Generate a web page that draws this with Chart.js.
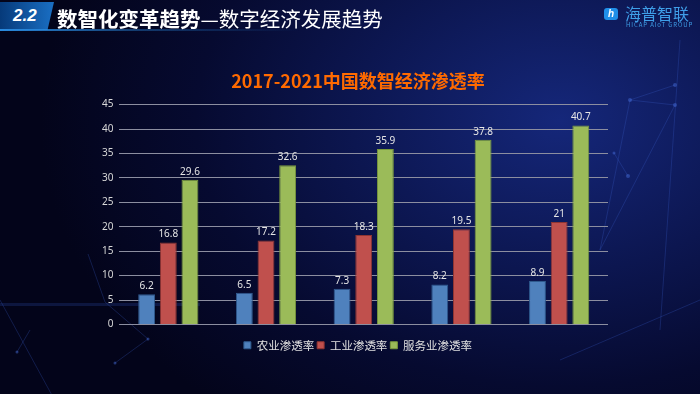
<!DOCTYPE html>
<html><head><meta charset="utf-8">
<script src="https://cdn.jsdelivr.net/npm/chart.js@4/dist/chart.umd.min.js"></script>
<style>
html,body{margin:0;padding:0;width:700px;height:394px;overflow:hidden;}
body{background:radial-gradient(ellipse 520px 380px at 560px 120px,#15277a 0%,#0c1650 40%,#060a30 70%,#03041a 100%);font-family:"Noto Sans CJK SC","Noto Sans",sans-serif;position:relative;}
#deco{position:absolute;left:0;top:0;}
#hdr{position:absolute;left:0;top:0;width:700px;height:40px;}
#tag{position:absolute;left:0;top:2px;width:54px;height:28px;background:linear-gradient(90deg,#063a7a,#1a6fc4);clip-path:polygon(0 0,100% 0,88% 100%,0 100%);}
#tag span{position:absolute;left:13px;top:4px;font:italic bold 17px "Liberation Sans",Arial,sans-serif;color:#fff;}
#line{position:absolute;left:0;top:29px;width:300px;height:2px;background:linear-gradient(90deg,#2a8be0,rgba(42,139,224,0.4) 45%,rgba(42,139,224,0));}
#ttl{position:absolute;left:57px;top:3px;font-size:20.5px;color:#fff;white-space:nowrap;}
#ttl b{font-weight:bold;}
#logo{position:absolute;left:604px;top:6px;}
#ico{position:absolute;left:0;top:2px;width:14px;height:12px;background:#1f8ee8;border-radius:3px;color:#fff;font:italic bold 10px Arial;text-align:center;line-height:12px;}
#lt{position:absolute;left:21px;top:-5px;font-size:16px;color:#3f9ee8;white-space:nowrap;letter-spacing:0px;}
#ls{position:absolute;left:22px;top:14px;font-size:6px;color:#3f9ee8;white-space:nowrap;letter-spacing:0.9px;}
#wrap{position:absolute;left:0;top:0;width:700px;height:394px;}
</style></head>
<body>
<svg id="deco" width="700" height="394">
<g stroke="#3a5cc8" stroke-opacity="0.28" stroke-width="1" fill="none">
<line x1="630" y1="100" x2="600" y2="250"/><line x1="630" y1="100" x2="675" y2="105"/><line x1="630" y1="100" x2="675" y2="85"/>
<line x1="600" y1="250" x2="675" y2="105"/><line x1="614" y1="153" x2="628" y2="176"/><line x1="680" y1="40" x2="660" y2="330"/>
<line x1="88" y1="254" x2="105" y2="302"/><line x1="105" y1="302" x2="148" y2="339"/><line x1="148" y1="339" x2="115" y2="363"/>
<line x1="17" y1="352" x2="30" y2="330"/><line x1="0" y1="300" x2="60" y2="410"/><line x1="560" y1="360" x2="700" y2="300"/>
</g>
<g fill="#4a70e0" fill-opacity="0.45">
<circle cx="630" cy="100" r="2"/><circle cx="675" cy="105" r="2"/><circle cx="675" cy="85" r="2"/><circle cx="628" cy="176" r="2"/><circle cx="614" cy="153" r="1.5"/>
<circle cx="148" cy="339" r="1.5"/><circle cx="115" cy="363" r="1.5"/><circle cx="17" cy="352" r="1.5"/>
</g>
<rect x="0" y="303" width="200" height="3" fill="#2a4ab0" fill-opacity="0.25"/>
</svg>
<div id="wrap"><canvas id="c" width="700" height="394"></canvas></div>
<div id="hdr">
<div id="tag"><span>2.2</span></div>
<div id="line"></div>
<div id="ttl"><b>数智化变革趋势</b>—数字经济发展趋势</div>
<div id="logo"><div id="ico">h</div><div id="lt">海普智联</div><div id="ls">HICAP AIoT GROUP</div></div>
</div>
<script>
const categories = ["2017","2018","2019","2020","2021"];
const agriculture = [6.2,6.5,7.3,8.2,8.9];
const industry = [16.8,17.2,18.3,19.5,21];
const services = [29.6,32.6,35.9,37.8,40.7];
const seriesNames = ["农业渗透率","工业渗透率","服务业渗透率"];
const chartTitle = "2017-2021中国数智经济渗透率";

const labelPlugin = {
  id:'vals',
  afterDatasetsDraw(chart){
    const ctx = chart.ctx;
    ctx.save();
    ctx.font = '10px "Noto Sans","DejaVu Sans",sans-serif';
    ctx.fillStyle = '#e6e6e6';
    ctx.textAlign = 'center';
    ctx.textBaseline = 'bottom';
    chart.data.datasets.forEach((ds,i)=>{
      chart.getDatasetMeta(i).data.forEach((bar,j)=>{
        ctx.fillText(String(ds.data[j]), bar.x, bar.y - 3);
      });
    });
    ctx.restore();
  }
};

new Chart(document.getElementById('c'),{
  type:'bar',
  data:{
    labels:categories,
    datasets:[
      {label:seriesNames[0],data:agriculture,backgroundColor:'#4f81bd',borderColor:'#2f5a8e',borderWidth:1},
      {label:seriesNames[1],data:industry,backgroundColor:'#c0504d',borderColor:'#8f3532',borderWidth:1},
      {label:seriesNames[2],data:services,backgroundColor:'#9bbb59',borderColor:'#7a9a3c',borderWidth:1}
    ]
  },
  options:{
    responsive:false,
    animation:false,
    devicePixelRatio:1,
    layout:{padding:{left:96,right:80,top:70,bottom:33}},
    datasets:{bar:{categoryPercentage:0.665,barPercentage:0.78}},
    scales:{
      x:{ticks:{display:false},grid:{display:false},border:{display:false},
        afterFit(scale){ scale.height = 12; }},
      y:{min:0,max:45,
        ticks:{stepSize:5,color:'#d8d8d8',padding:6,font:{size:10,family:'"Noto Sans","DejaVu Sans",sans-serif'}},
        grid:{color:'#8c8ea0',lineWidth:1,drawTicks:false},
        border:{display:false}},
      yr:{position:'right',min:0,max:45,display:true,
        ticks:{display:false},grid:{display:false},border:{display:false},
        afterFit(scale){ scale.width = 12; }}
    },
    plugins:{
      title:{display:true,text:chartTitle,color:'#ff6a00',font:{size:18,weight:'bold',family:'"Noto Sans CJK SC",sans-serif'},padding:{top:0,bottom:13}},
      legend:{position:'bottom',labels:{color:'#e0e0e0',boxWidth:7,boxHeight:7,padding:3,font:{size:11.5,family:'"Noto Sans CJK SC",sans-serif'}}},
      tooltip:{enabled:false}
    }
  },
  plugins:[labelPlugin]
});
</script>
</body></html>
